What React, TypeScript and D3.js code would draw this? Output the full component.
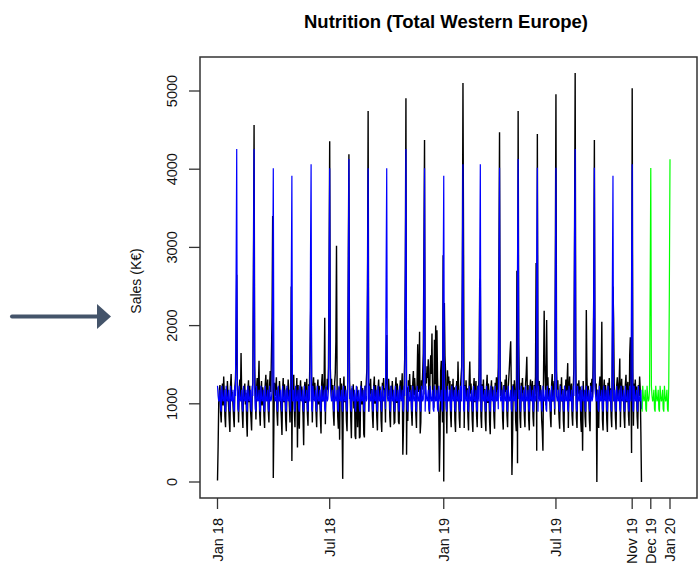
import React from 'react';
import * as d3 from 'd3';

// actual daily sales (K€), one value per day from the 1st of each month
const salesJan18 = [20, 450, 1020, 1180, 1240, 890, 760, 1110, 1260, 980, 1350, 1120, 830, 700, 1190, 1040, 1290, 1100, 960, 780, 640, 1230, 1380, 1070, 1150, 990, 820, 700, 1210, 1320, 1670];
const salesFeb18 = [2650, 1240, 1090, 760, 1170, 1310, 1050, 1650, 1130, 870, 690, 1200, 1080, 1260, 990, 1140, 780, 580, 1170, 1300, 1020, 1230, 950, 820, 660, 1150, 1270, 2750];
const salesMar18 = [4565, 1480, 1120, 800, 1190, 1330, 1060, 1240, 1550, 880, 720, 1160, 1290, 980, 1210, 1100, 840, 690, 1250, 1370, 1060, 1180, 1310, 900, 760, 1230, 1420, 1150, 1640, 2100, 3400];
const salesApr18 = [50, 780, 1270, 1100, 1190, 1340, 880, 720, 1210, 1060, 1290, 1140, 1000, 820, 600, 1180, 1330, 1020, 1250, 1110, 790, 650, 1200, 1080, 1310, 1170, 960, 760, 1150, 2500];
const salesMay18 = [270, 1290, 1140, 1370, 910, 700, 1200, 1090, 1330, 440, 1240, 820, 680, 1170, 1300, 1040, 1220, 1110, 850, 470, 1160, 1280, 1010, 1190, 1320, 870, 720, 1250, 1080, 1550, 2070];
const salesJun18 = [2500, 1180, 760, 1220, 1340, 1050, 1270, 1120, 880, 700, 1190, 1310, 990, 1230, 1090, 830, 620, 1260, 1380, 1030, 1170, 1290, 2100, 740, 1210, 1060, 1320, 1180, 1460, 2700];
const salesJul18 = [4356, 1460, 1180, 1320, 1050, 1240, 860, 720, 1270, 1390, 1800, 3020, 1150, 830, 680, 1210, 540, 1330, 1090, 1260, 800, 40, 1190, 1350, 1020, 1230, 1110, 780, 650, 1240, 2800];
const salesAug18 = [4190, 1290, 1120, 820, 560, 1200, 1060, 1250, 940, 1130, 590, 550, 1080, 1220, 700, 1170, 1010, 560, 580, 1160, 1290, 990, 1200, 1070, 610, 570, 1230, 1110, 1280, 1450, 2500];
const salesSep18 = [4744, 900, 1260, 1130, 1320, 1040, 1190, 840, 690, 1220, 1350, 1000, 1240, 1110, 820, 660, 1190, 1310, 1060, 1220, 1140, 780, 640, 1270, 1180, 1330, 1060, 1200, 760, 1500];
const salesOct18 = [1880, 1250, 1100, 1320, 1170, 830, 700, 1230, 1080, 1290, 1120, 1040, 750, 760, 1200, 1340, 1010, 1260, 1150, 770, 740, 1180, 1300, 1070, 1210, 1390, 350, 690, 1250, 1580, 2750];
const salesNov18 = [4906, 350, 1210, 780, 1300, 1150, 1380, 1090, 1240, 880, 720, 1270, 1420, 1110, 1330, 1200, 860, 690, 1290, 1760, 1150, 1340, 1920, 620, 760, 1300, 1180, 1400, 1650, 2880];
const salesDec18 = [4373, 1120, 1390, 1260, 1480, 1330, 1570, 1040, 870, 1450, 1620, 1380, 1900, 1110, 1180, 950, 1820, 1250, 2000, 1060, 1940, 1330, 1050, 870, 130, 560, 1410, 1550, 1120, 760, 2900];
const salesJan19 = [5, 2290, 1610, 1380, 990, 620, 1430, 1260, 1350, 1180, 1290, 860, 700, 1250, 1100, 1320, 1060, 1210, 780, 640, 1180, 1290, 1050, 1540, 1170, 820, 690, 1220, 1350, 1480, 2670];
const salesFeb19 = [5102, 2900, 690, 1240, 1110, 1300, 1050, 1200, 830, 660, 1280, 1540, 1130, 1260, 1090, 790, 640, 1200, 1330, 1020, 1170, 1290, 840, 700, 1230, 1080, 1460, 2550];
const salesMar19 = [2600, 840, 690, 1250, 1120, 1310, 1060, 1190, 800, 650, 1230, 1370, 1010, 1260, 1140, 760, 610, 1180, 1300, 1050, 1220, 1100, 830, 680, 1270, 1150, 1340, 1070, 1230, 1470, 2750];
const salesApr19 = [4471, 1350, 1100, 1280, 1190, 810, 670, 1240, 1060, 1310, 1150, 1370, 850, 700, 1210, 1340, 1490, 1660, 1800, 1200, 90, 520, 1250, 1090, 1300, 1170, 780, 650, 2700, 240];
const salesMay19 = [4744, 1780, 1230, 820, 690, 1270, 1140, 1330, 1060, 1210, 850, 700, 1260, 1380, 1600, 1090, 1240, 800, 660, 1200, 1310, 1040, 1180, 1290, 830, 710, 1240, 1120, 1350, 2800, 400];
const salesJun19 = [4450, 1320, 1150, 1290, 1070, 1240, 1130, 790, 650, 400, 1380, 2190, 1520, 1260, 980, 2070, 1230, 1340, 1060, 1200, 1110, 840, 700, 1250, 1380, 1030, 1190, 1290, 860, 2780];
const salesJul19 = [4957, 1420, 1180, 1300, 1060, 820, 680, 1250, 1120, 1340, 1030, 1190, 780, 640, 1230, 1090, 1310, 1160, 1290, 1520, 690, 1200, 1350, 1040, 1180, 1260, 850, 720, 1220, 1470, 3150];
const salesAug19 = [5230, 1650, 820, 690, 1260, 1130, 1300, 1080, 1220, 790, 640, 1180, 400, 1290, 1040, 1170, 830, 700, 2200, 1340, 1060, 1230, 1110, 780, 650, 1270, 1150, 1320, 1080, 1540, 2400];
const salesSep19 = [4373, 1400, 1120, 1260, 0, 1180, 830, 690, 1240, 1350, 1090, 1210, 2050, 800, 660, 1190, 1310, 1050, 1240, 1130, 790, 640, 1270, 1160, 1330, 1060, 1200, 840, 700, 1560];
const salesOct19 = [2500, 2100, 1260, 1110, 820, 670, 1230, 1340, 1070, 1200, 1290, 1580, 700, 1180, 1320, 1040, 1230, 1110, 830, 690, 1250, 1370, 1020, 1190, 1280, 860, 720, 1620, 1850, 1300, 370];
const salesNov19 = [5034, 1450, 720, 1260, 1120, 1310, 1080, 1220, 830, 680, 1240, 1100, 1350, 1190, 640, 0];

const salesMonths = [
  salesJan18, salesFeb18, salesMar18, salesApr18, salesMay18, salesJun18,
  salesJul18, salesAug18, salesSep18, salesOct18, salesNov18, salesDec18,
  salesJan19, salesFeb19, salesMar19, salesApr19, salesMay19, salesJun19,
  salesJul19, salesAug19, salesSep19, salesOct19, salesNov19,
];

// fitted model: weekly level (Sun..Sat) plus month-start peaks (Feb 18 .. Nov 19)
const fitWeekly = [900, 1230, 1100, 1030, 1060, 1180, 930];
const fitPeaks = [4258, 4258, 4011, 3917, 4062, 4011, 4130, 4011, 4011, 4258, 4011, 3917, 4062, 4062, 4020, 4130, 4020, 4020, 4258, 4020, 3917, 4062];
const fitShoulders = [2650, 2750, 2500, 2500, 2850, 2700, 2650, 2600, 2650, 2650, 2650, 2450, 2700, 2600, 2550, 2800, 2800, 2450, 3150, 2500, 2500, 2650];

// forecast (Dec 19, Jan 20 peaks)
const forecastPeaks = [4015, 4126];
const forecastShoulders = [2520, 2500];

const yTicks = [0, 1000, 2000, 3000, 4000, 5000];
const xTickDates = [new Date(2018, 0, 1), new Date(2018, 6, 1), new Date(2019, 0, 1), new Date(2019, 6, 1), new Date(2019, 10, 1), new Date(2019, 11, 1), new Date(2020, 0, 1)];
const xTickLabels = ['Jan 18', 'Jul 18', 'Jan 19', 'Jul 19', 'Nov 19', 'Dec 19', 'Jan 20'];

type Pt = [Date, number];

const start = new Date(2018, 0, 1);
const monthIdx = (d: Date) => (d.getFullYear() - 2018) * 12 + d.getMonth();

const actual: Pt[] = [];
salesMonths.forEach((vals, m) => {
  const first = new Date(2018, m, 1);
  vals.forEach((v, i) => actual.push([d3.timeDay.offset(first, i), v]));
});

const fitLevel = (d: Date, peaks: number[], shoulders: number[], offset: number) => {
  const next = d3.timeDay.offset(d, 1);
  if (d.getDate() === 1) {
    const k = monthIdx(d) - offset;
    if (k >= 0 && k < peaks.length) return peaks[k];
  }
  if (next.getDate() === 1) {
    const k = monthIdx(next) - offset;
    if (k >= 0 && k < shoulders.length) return shoulders[k];
  }
  return fitWeekly[d.getDay()];
};

const fitEnd = new Date(2019, 10, 16);
const fitted: Pt[] = d3.timeDay.range(start, d3.timeDay.offset(fitEnd, 1))
  .map(d => [d, fitLevel(d, fitPeaks, fitShoulders, 1)] as Pt);

const forecast: Pt[] = d3.timeDay.range(new Date(2019, 10, 17), new Date(2020, 0, 2))
  .map(d => [d, fitLevel(d, forecastPeaks, forecastShoulders, 23)] as Pt);

const font = '"Liberation Sans", Arial, sans-serif';

export default function App() {
  const box = { left: 200, top: 57, right: 697, bottom: 498 };
  const x = d3.scaleTime().domain([start, new Date(2020, 0, 1)]).range([217.5, 670]);
  const y = d3.scaleLinear().domain([0, 5000]).range([482, 91]);
  const line = d3.line<Pt>().x(d => x(d[0])).y(d => y(d[1]));

  return (
    <svg width={698} height={564} style={{ position: 'absolute', left: 0, top: 0, background: '#fff' }}>
      <text x={446} y={28} textAnchor="middle" fontFamily={font} fontSize={18.5} fontWeight="bold" fill="#000">
        Nutrition (Total Western Europe)
      </text>

      <path d={line(actual) || ''} fill="none" stroke="#000" strokeWidth={1.4} />
      <path d={line(fitted) || ''} fill="none" stroke="#0000ff" strokeWidth={1.2} />
      <path d={line(forecast) || ''} fill="none" stroke="#00ff00" strokeWidth={1.2} />

      <rect x={box.left} y={box.top} width={box.right - box.left} height={box.bottom - box.top}
        fill="none" stroke="#333" strokeWidth={1.5} />

      {yTicks.map(t => (
        <g key={t}>
          <line x1={189} x2={box.left} y1={y(t)} y2={y(t)} stroke="#333" strokeWidth={1.3} />
          <text transform={`translate(172,${y(t)}) rotate(-90)`} textAnchor="middle" dy="0.35em"
            fontFamily={font} fontSize={14.5} fill="#111">{t}</text>
        </g>
      ))}

      {xTickDates.map((d, i) => (
        <g key={i}>
          <line x1={x(d)} x2={x(d)} y1={box.bottom} y2={509} stroke="#333" strokeWidth={1.3} />
          <text transform={`translate(${x(d)},518) rotate(-90)`} textAnchor="end" dy="0.35em"
            fontFamily={font} fontSize={14.5} fill="#111">{xTickLabels[i]}</text>
        </g>
      ))}

      <text transform="translate(136,281) rotate(-90)" textAnchor="middle" dy="0.35em"
        fontFamily={font} fontSize={14} fill="#111">Sales (K€)</text>

      <line x1={12} x2={99} y1={316.5} y2={316.5} stroke="#44546a" strokeWidth={4} strokeLinecap="round" />
      <polygon points="97,304 111,316.5 97,329" fill="#44546a" />
    </svg>
  );
}
